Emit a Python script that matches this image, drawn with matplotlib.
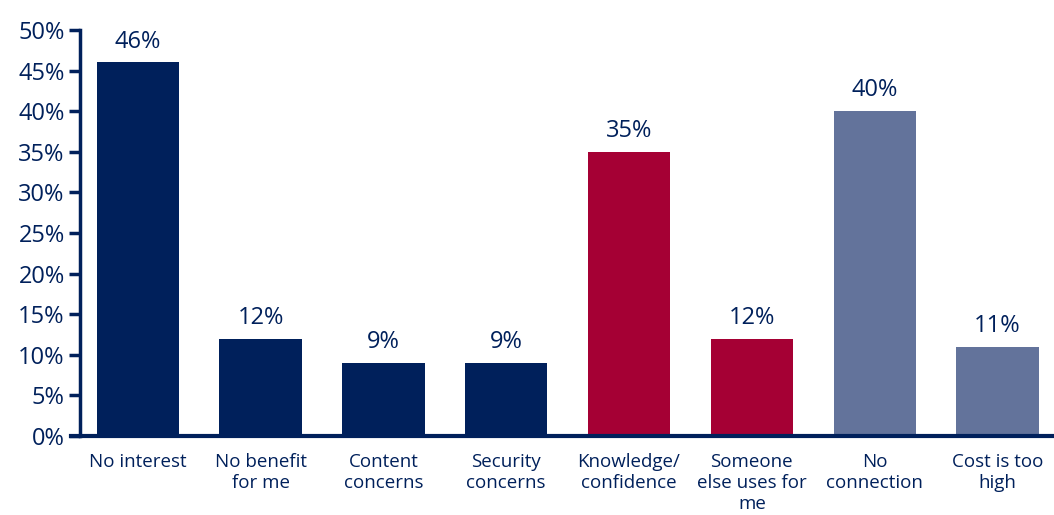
import matplotlib.pyplot as plt

# Reasons for not using the internet (share of respondents)
reasons = ["No interest", "No benefit\nfor me", "Content\nconcerns", "Security\nconcerns",
           "Knowledge/\nconfidence", "Someone\nelse uses for\nme", "No\nconnection", "Cost is too\nhigh"]
shares = [46, 12, 9, 9, 35, 12, 40, 11]
groups = ["attitude", "attitude", "attitude", "attitude", "skills", "skills", "access", "access"]

navy = "#00205B"
group_colours = {"attitude": navy, "skills": "#A50034", "access": "#63739B"}
colours = [group_colours[g] for g in groups]

plt.rcParams['font.family'] = ['Open Sans', 'DejaVu Sans']

fig = plt.figure(figsize=(10.54, 5.15), dpi=100)
ax = fig.add_axes([80 / 1054, 1 - 436 / 515, 1 - 80 / 1054, (436 - 30) / 515])

x = range(len(reasons))
bars = ax.bar(x, shares, width=0.67, color=colours)

for xi, v in zip(x, shares):
    ax.text(xi, v + 1.1, f"{v}%", ha="center", va="bottom", fontsize=17, color=navy)

ax.set_ylim(0, 50)
ax.set_xlim(-0.47, 7.46)
ax.set_yticks(range(0, 51, 5))
ax.set_yticklabels([f"{t}%" for t in range(0, 51, 5)], fontsize=17, color=navy)
ax.set_xticks(list(x))
ax.set_xticklabels(reasons, fontsize=13.5, color=navy, linespacing=1.22)

ax.tick_params(axis="y", direction="out", length=8, width=2.5, color=navy, pad=3)
ax.tick_params(axis="x", length=0, pad=12)

for side in ["top", "right"]:
    ax.spines[side].set_visible(False)
ax.spines["left"].set_color(navy)
ax.spines["left"].set_linewidth(2.5)
ax.spines["bottom"].set_color(navy)
ax.spines["bottom"].set_linewidth(3)
ax.spines["bottom"].set_bounds(-0.54, 7.46)
ax.spines["bottom"].set_clip_on(False)

fig.savefig("out.png", dpi=100)
